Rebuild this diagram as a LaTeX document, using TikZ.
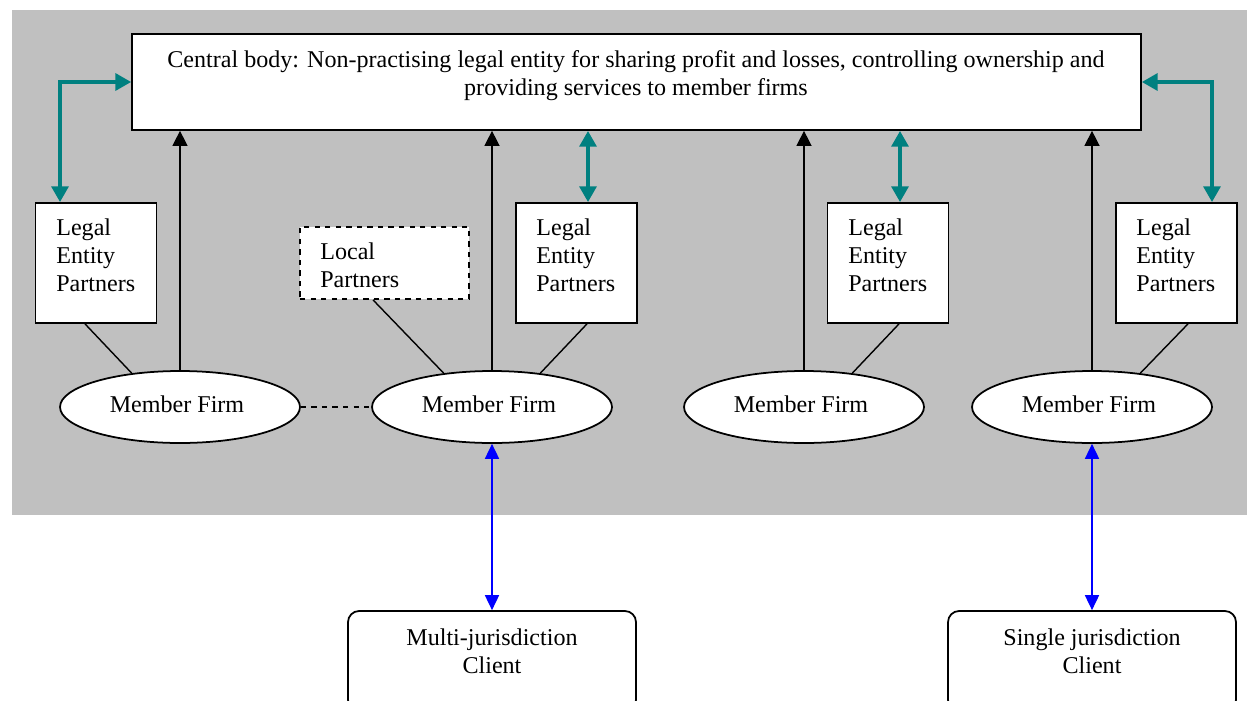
\documentclass[tikz,border=0pt]{standalone}
\usepackage{fontspec}
\setmainfont{Liberation Serif}
\usetikzlibrary{arrows.meta,shapes.geometric}
\definecolor{linkteal}{HTML}{008080}
\definecolor{panelgray}{HTML}{C0C0C0}
\begin{document}
\begin{tikzpicture}[x=0.02cm,y=-0.02cm,
  font=\fontsize{13.7}{15.9}\selectfont,
  box/.style={draw, fill=white, line width=1pt, inner sep=0pt},
  partnerbox/.style={box, minimum width=2.42cm, minimum height=2.4cm},
  firm/.style={ellipse, draw, fill=white, line width=1pt, inner sep=0pt,
    minimum width=4.8cm, minimum height=1.44cm},
  client/.style={box, rounded corners=0.22cm, minimum width=5.76cm, minimum height=2cm},
  label/.style={align=left, anchor=west, inner sep=0pt},
  link/.style={line width=0.8pt},
  uparrow/.style={link, -{Triangle[length=8.5pt,width=8.5pt]}},
  tealarrow/.style={draw=linkteal, line width=2.4pt, line join=miter,
    {Triangle[length=9pt,width=9.5pt]}-{Triangle[length=9pt,width=9.5pt]}},
  bluearrow/.style={draw=blue, line width=0.8pt,
    {Triangle[length=8.5pt,width=8pt]}-{Triangle[length=8.5pt,width=8pt]}}]

\clip (0,0) rectangle (1247,700);
\fill[white] (0,0) rectangle (1247,700);
\fill[panelgray] (12,10) rectangle (1247,515);

% central body
\node[box, minimum width=20.18cm, minimum height=1.92cm, align=center] (central) at (636.5,82) {};
\node[align=center, inner sep=0pt] (centraltext) at (636,76)
  {Central body: Non-practising legal entity for sharing profit and losses, controlling ownership and\\
   providing services to member firms};

% partner boxes
\node[partnerbox] (le1) at (96,263) {};
\node[partnerbox] (le2) at (576.5,263) {};
\node[partnerbox] (le3) at (888,263) {};
\node[partnerbox] (le4) at (1176.5,263) {};
\node[box, dashed, minimum width=3.38cm, minimum height=1.44cm] (lp) at (384.5,263) {};

\node[label] (le1t) at (56,255) {Legal\\Entity\\Partners};
\node[label] (le2t) at (536,255) {Legal\\Entity\\Partners};
\node[label] (le3t) at (848,255) {Legal\\Entity\\Partners};
\node[label] (le4t) at (1136,255) {Legal\\Entity\\Partners};
\node[label] (lpt) at (320,265) {Local\\Partners};

% member firms
\node[firm] (mf1) at (180,407) {};
\node[firm] (mf2) at (492,407) {};
\node[firm] (mf3) at (804,407) {};
\node[firm] (mf4) at (1092,407) {};
\node (mf1t) at (177,404) {Member Firm};
\node (mf2t) at (489,404) {Member Firm};
\node (mf3t) at (801,404) {Member Firm};
\node (mf4t) at (1089,404) {Member Firm};

% clients
\node[client] (mc) at (492,661) {};
\node[client] (sc) at (1092,661) {};
\node[align=center, inner sep=0pt] (mct) at (492,651) {Multi-jurisdiction\\Client};
\node[align=center, inner sep=0pt] (sct) at (1092,651) {Single jurisdiction\\Client};

% ownership links to the central body
\draw[uparrow] (mf1.north) -- (mf1.north |- central.south);
\draw[uparrow] (mf2.north) -- (mf2.north |- central.south);
\draw[uparrow] (mf3.north) -- (mf3.north |- central.south);
\draw[uparrow] (mf4.north) -- (mf4.north |- central.south);

% partners to member firms
\draw[link] ([xshift=-0.22cm]le1.south) -- (mf1.145);
\draw[link] ([xshift=-0.23cm]lp.south) -- (mf2.145);
\draw[link] ([xshift=0.21cm]le2.south) -- (mf2.35);
\draw[link] ([xshift=0.22cm]le3.south) -- (mf3.35);
\draw[link] ([xshift=0.23cm]le4.south) -- (mf4.35);
\draw[link, dashed] (mf1.east) -- (mf2.west);

% legal entity partners to the central body
\coordinate (t2) at ([xshift=0.23cm]le2.north);
\coordinate (t3) at ([xshift=0.24cm]le3.north);
\draw[tealarrow] ([xshift=-0.72cm]le1.north) |- (central.west);
\draw[tealarrow] ([xshift=0.71cm]le4.north) |- (central.east);
\draw[tealarrow] (t2) -- (t2 |- central.south);
\draw[tealarrow] (t3) -- (t3 |- central.south);

% clients
\draw[bluearrow] (mf2.south) -- (mc.north);
\draw[bluearrow] (mf4.south) -- (sc.north);
\end{tikzpicture}
\end{document}
